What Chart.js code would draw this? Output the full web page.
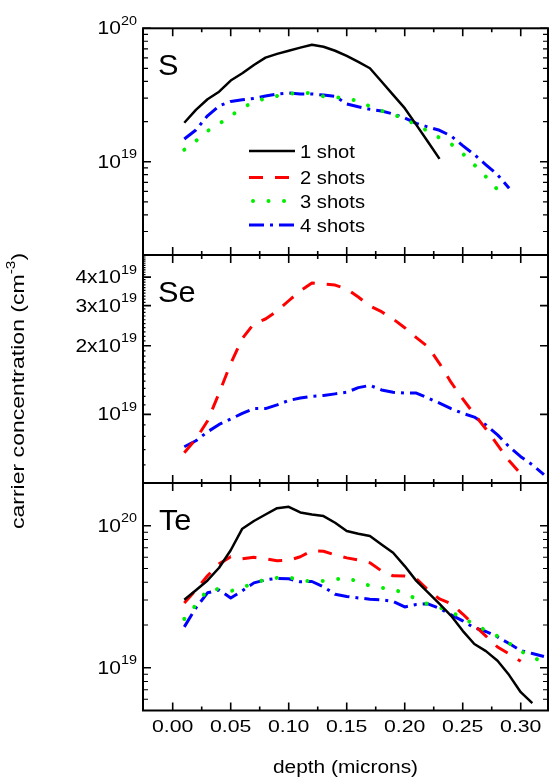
<!DOCTYPE html>
<html><head><meta charset="utf-8">
<script src="https://cdn.jsdelivr.net/npm/chart.js@4.4.1/dist/chart.umd.min.js"></script>
<style>html,body{margin:0;padding:0;background:#fff;}canvas{display:block;}</style>
</head><body>
<canvas id="c" width="549" height="777"></canvas>
<script>
// ---------------- data (concentrations in units of 1e19 cm^-3) ----------------
const UNIT = 1e19;
const depth = [0.01,0.02,0.03,0.04,0.05,0.06,0.07,0.08,0.09,0.10,0.11,0.12,0.13,0.14,0.15,0.16,
               0.17,0.18,0.19,0.20,0.21,0.22,0.23,0.24,0.25,0.26,0.27,0.28,0.29,0.30,0.31,0.32];

const S_1shot  = [1.96,2.45,2.94,3.35,4.06,4.60,5.31,6.03,6.43,6.79,7.16,7.53,7.28,6.79,6.21,5.60,5.02,3.99,3.17,2.52,1.89,1.41,1.05];
const S_3shots = [1.23,1.43,1.70,1.92,2.21,2.53,2.81,2.98,3.11,3.22,3.30,3.26,3.09,3.05,2.96,2.86,2.60,2.41,2.25,2.11,1.88,1.70,1.51,1.36,1.15,0.948,0.772,0.617];
const S_4shots = [1.48,1.73,2.21,2.62,2.83,2.91,2.98,3.11,3.22,3.28,3.22,3.22,3.16,3.09,2.71,2.58,2.47,2.40,2.28,2.13,1.94,1.82,1.72,1.56,1.32,1.13,0.949,0.798,0.632];

const Se_2shots = [0.679,0.780,0.935,1.24,1.67,2.15,2.50,2.62,2.84,3.15,3.48,3.77,3.73,3.69,3.55,3.27,2.99,2.82,2.62,2.40,2.17,1.98,1.67,1.38,1.17,1.00,0.863,0.735,0.626,0.549];
const Se_4shots = [0.721,0.766,0.838,0.903,0.954,1.01,1.06,1.06,1.10,1.15,1.18,1.20,1.21,1.23,1.25,1.31,1.34,1.28,1.25,1.24,1.24,1.18,1.12,1.06,1.01,0.973,0.899,0.813,0.721,0.652,0.601,0.544];

const Te_1shot  = [3.01,3.51,4.12,5.06,6.72,9.53,10.8,12.0,13.3,13.6,12.4,12.0,11.7,10.5,9.18,8.79,8.46,7.38,6.45,5.20,4.09,3.40,2.82,2.32,1.82,1.47,1.31,1.12,0.888,0.673,0.563];
const Te_2shots = [2.86,3.53,4.44,5.39,6.05,5.85,5.99,5.85,5.66,5.71,6.05,6.67,6.61,6.24,5.94,5.73,5.48,4.81,4.44,4.42,4.23,3.53,3.05,2.82,2.39,1.99,1.67,1.40,1.25,1.11];
const Te_3shots = [2.21,2.77,3.53,3.59,3.47,3.65,3.99,4.16,4.30,4.33,4.16,4.03,4.09,4.19,4.30,4.03,3.78,3.65,3.56,3.34,3.05,2.80,2.66,2.47,2.24,2.02,1.83,1.67,1.49,1.31,1.18,1.10];
const Te_4shots = [1.94,2.64,3.37,3.53,3.10,3.48,3.96,4.16,4.26,4.23,4.03,4.05,3.71,3.29,3.18,3.10,3.04,3.01,2.93,2.68,2.79,2.82,2.62,2.36,2.14,1.91,1.80,1.65,1.48,1.32,1.26,1.20];

const seriesNames = ['1 shot','2 shots','3 shots','4 shots'];
const panelNames  = ['S','Se','Te'];
const xTickValues = [0,0.05,0.10,0.15,0.20,0.25,0.30];
const xTickLabels = ['0.00','0.05','0.10','0.15','0.20','0.25','0.30'];
const sTickValues  = [1e19,1e20];
const seTickValues = [1e19,2e19,3e19,4e19];
const teTickValues = [1e19,1e20];
const xTitle = 'depth (microns)';
const yTitle = 'carrier concentration (cm';

// ---------------- styles ----------------
const FONT = '"Liberation Sans", Arial, sans-serif';
const STYLE = [
  {color:'#000000', width:2.5, dash:[],          cap:'butt'},
  {color:'#ff0000', width:3,   dash:[14,12],     cap:'butt'},
  {color:'#00ee00', width:4,   dash:[0.01,15.5], cap:'round'},
  {color:'#0000ff', width:3,   dash:[15,6,3,6],  cap:'butt'}
];

function mk(values, shot, axis){
  const st = STYLE[shot];
  return {label: seriesNames[shot], yAxisID: axis,
    data: values.map((v,i)=>({x: depth[i], y: v*UNIT})),
    borderColor: st.color, backgroundColor: st.color, borderWidth: st.width,
    borderDash: st.dash, borderCapStyle: st.cap, borderJoinStyle:'round',
    pointRadius:0, tension:0, fill:false};
}

const datasets = [
  mk(S_1shot,0,'yS'), mk(S_3shots,2,'yS'), mk(S_4shots,3,'yS'),
  mk(Se_2shots,1,'ySe'), mk(Se_4shots,3,'ySe'),
  mk(Te_1shot,0,'yTe'), mk(Te_2shots,1,'yTe'), mk(Te_3shots,2,'yTe'), mk(Te_4shots,3,'yTe')
];

function txt(ctx, s, x, y, size, align, baseline, sx){
  ctx.save();
  ctx.font = size+'px '+FONT;
  ctx.textAlign = align; ctx.textBaseline = baseline;
  ctx.translate(x,y); ctx.scale(sx,1);
  ctx.fillText(s,0,0);
  ctx.restore();
}
function width(ctx, s, size){ ctx.save(); ctx.font=size+'px '+FONT; const w=ctx.measureText(s).width; ctx.restore(); return w; }

const SX = 1.2;
function drawPow(ctx, right, y, base, exp){
  const we = width(ctx, exp, 12)*SX, wb = width(ctx, base, 17.5)*SX;
  txt(ctx, base, right-we-wb, y+6, 17.5, 'left', 'alphabetic', SX);
  txt(ctx, exp, right-we, y-3.5, 12, 'left', 'alphabetic', SX);
}

function logTicks(min, max, stepFn){
  const out=[];
  for(let e=Math.floor(Math.log10(min)); e<=Math.ceil(Math.log10(max)); e++){
    for(const m of stepFn(e)){ const v=m*Math.pow(10,e); if(v>min*1.0001 && v<max*0.9999) out.push(v); }
  }
  return out;
}

const framePlugin = {
  id:'frame',
  afterDraw(chart){
    const ctx = chart.ctx, ca = chart.chartArea, xs = chart.scales.x;
    const seMinor = [];
    for(let k=11;k<50;k++) seMinor.push(k/10);
    const panels = [
      {s: chart.scales.yS,  major: sTickValues,  minor: logTicks(2e18,1e20,()=>[2,3,4,5,6,7,8,9]), minLen:5, rightMinor:true},
      {s: chart.scales.ySe, major: seTickValues, minor: logTicks(5e18,5e19,(e)=>e===18?[5,6,7,8,9]:seMinor), minLen:2.5, rightMinor:false},
      {s: chart.scales.yTe, major: teTickValues, minor: logTicks(5e18,2e20,()=>[2,3,4,5,6,7,8,9]), minLen:5, rightMinor:true}
    ];
    ctx.save();
    ctx.strokeStyle='#000'; ctx.fillStyle='#000';
    // ticks
    ctx.lineWidth=1.6;
    ctx.beginPath();
    for(const p of panels){
      const t=p.s.top, b=p.s.bottom;
      for(const v of xTickValues){ const px=xs.getPixelForValue(v); ctx.moveTo(px,t); ctx.lineTo(px,t+8); ctx.moveTo(px,b); ctx.lineTo(px,b-8); }
      for(let k=0;k<6;k++){ const px=xs.getPixelForValue(0.025+0.05*k); ctx.moveTo(px,t); ctx.lineTo(px,t+4); ctx.moveTo(px,b); ctx.lineTo(px,b-4); }
      for(const v of p.major){ const py=p.s.getPixelForValue(v); ctx.moveTo(ca.left,py); ctx.lineTo(ca.left+8,py); ctx.moveTo(ca.right,py); ctx.lineTo(ca.right-8,py); }
    }
    ctx.stroke();
    ctx.lineWidth=1.2;
    ctx.beginPath();
    for(const p of panels){
      for(const v of p.minor){ if(p.major.some(m=>Math.abs(m-v)/v<1e-6)) continue; const py=p.s.getPixelForValue(v);
        ctx.moveTo(ca.left,py); ctx.lineTo(ca.left+p.minLen,py);
        if(p.rightMinor){ ctx.moveTo(ca.right,py); ctx.lineTo(ca.right-p.minLen,py); } }
    }
    ctx.stroke();
    // frame
    ctx.lineWidth=2;
    ctx.strokeRect(ca.left, ca.top, ca.right-ca.left, ca.bottom-ca.top);
    ctx.beginPath();
    for(const p of panels.slice(1)){ ctx.moveTo(ca.left,p.s.top); ctx.lineTo(ca.right,p.s.top); }
    ctx.stroke();

    // y tick labels
    const R = 137;
    for(const p of panels){
      for(const v of p.major){
        const e = Math.floor(Math.log10(v)+1e-9), m = Math.round(v/Math.pow(10,e));
        drawPow(ctx, R, p.s.getPixelForValue(v), (m===1?'':m+'x')+'10', String(e));
      }
    }
    // x tick labels
    xTickValues.forEach((v,i)=> txt(ctx, xTickLabels[i], xs.getPixelForValue(v), 731.5, 17, 'center','alphabetic', 1.25));
    // x title
    txt(ctx, xTitle, (ca.left+ca.right)/2, 773, 18, 'center','alphabetic', 1.16);
    // y title (rotated)
    ctx.save();
    ctx.translate(24, 391); ctx.rotate(-Math.PI/2);
    const yts=18, ysx=1.28;
    const w1=width(ctx,yTitle,yts)*ysx, w2=width(ctx,'-3',12)*ysx, w3=width(ctx,')',yts)*ysx;
    const start=-(w1+w2+w3)/2;
    txt(ctx, yTitle, start, 0, yts, 'left','alphabetic', ysx);
    txt(ctx, '-3', start+w1, -9, 12, 'left','alphabetic', ysx);
    txt(ctx, ')', start+w1+w2, 0, yts, 'left','alphabetic', ysx);
    ctx.restore();
    // panel labels
    const pl = [[158,75],[158,301.5],[159,529.5]];
    panelNames.forEach((n,i)=> txt(ctx, n, pl[i][0], pl[i][1], 29, 'left','alphabetic', 1.06));
    // legend
    const ly = [151,177.5,201,225];
    seriesNames.forEach((n,i)=>{
      const st=STYLE[i];
      ctx.save();
      ctx.strokeStyle=st.color; ctx.lineWidth=st.width; ctx.setLineDash(st.dash); ctx.lineCap=st.cap;
      ctx.beginPath();
      const x0 = i===2?253:249;
      ctx.moveTo(x0,ly[i]); ctx.lineTo(i===2?290:295,ly[i]); ctx.stroke();
      ctx.restore();
      txt(ctx, n, 300, ly[i]+6.5, 18, 'left','alphabetic', 1.12);
    });
    ctx.restore();
  }
};

const yCommon = {type:'logarithmic', position:'left', stack:'panels',
  grid:{display:false, drawTicks:false}, border:{display:false}, ticks:{display:false},
  afterFit(s){ s.width = 143; }};

new Chart(document.getElementById('c'), {
  type:'line',
  data:{datasets},
  options:{
    responsive:false, animation:false, devicePixelRatio:1,
    layout:{padding:{top:28.3, right:1, bottom:0, left:0}},
    plugins:{legend:{display:false}, tooltip:{enabled:false}},
    scales:{
      x:{type:'linear', position:'bottom', min:-0.0256, max:0.3235,
         grid:{display:false, drawTicks:false}, border:{display:false}, ticks:{display:false},
         afterFit(s){ s.height = 66.5; }},
      yTe:Object.assign({}, yCommon, {min:5e18, max:2e20, stackWeight:227.5, weight:1}),
      ySe:Object.assign({}, yCommon, {min:5e18, max:5e19, stackWeight:228,   weight:2}),
      yS: Object.assign({}, yCommon, {min:2e18, max:1e20, stackWeight:226.7, weight:3})
    }
  },
  plugins:[framePlugin]
});
</script>
</body></html>
